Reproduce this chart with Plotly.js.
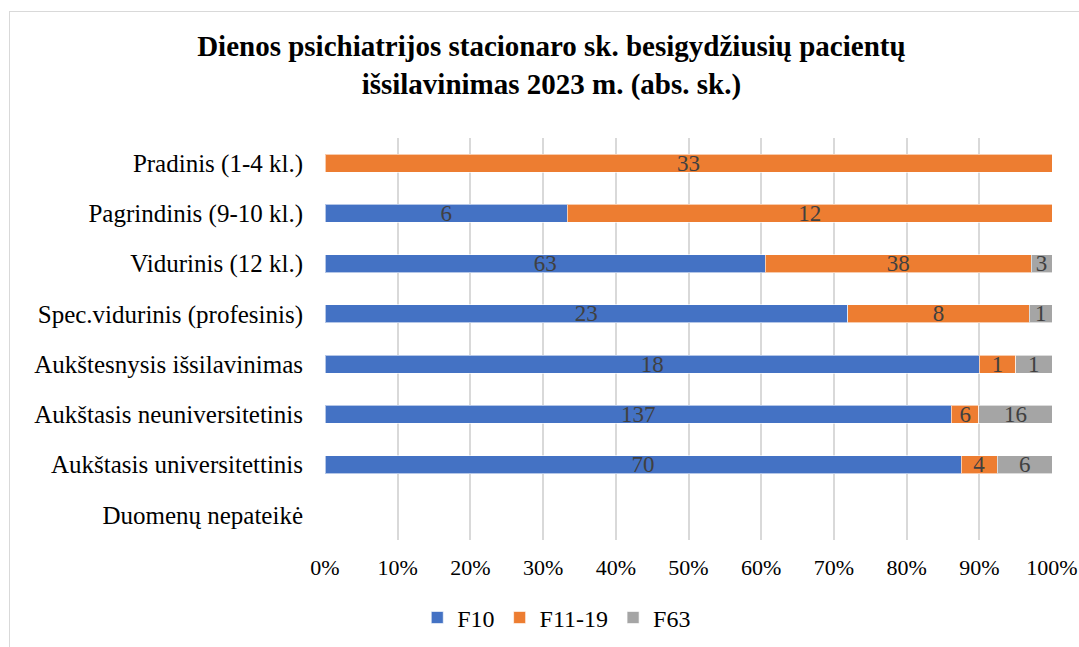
<!DOCTYPE html>
<html>
<head>
<meta charset="utf-8">
<script src="https://cdn.plot.ly/plotly-3.0.1.min.js"></script>
<style>
html,body{margin:0;padding:0;background:#fff;}
#wrap{position:relative;width:1079px;height:647px;overflow:hidden;}
#frame{position:absolute;left:9px;top:11px;width:1100px;height:700px;border:1px solid #d9d9d9;box-sizing:border-box;pointer-events:none;z-index:5;}
#chart{position:absolute;left:0;top:0;width:1079px;height:647px;}
</style>
</head>
<body>
<div id="wrap"><div id="chart"></div><div id="frame"></div></div>
<script>
const categories = [
  "Pradinis (1-4 kl.)",
  "Pagrindinis (9-10 kl.)",
  "Vidurinis (12 kl.)",
  "Spec.vidurinis (profesinis)",
  "Aukštesnysis išsilavinimas",
  "Aukštasis neuniversitetinis",
  "Aukštasis universitettinis",
  "Duomenų nepateikė"
];
const seriesNames = ["F10", "F11-19", "F63"];
const f10    = [null, 6, 63, 23, 18, 137, 70, null];
const f11_19 = [33, 12, 38, 8, 1, 6, 4, null];
const f63    = [null, null, 3, 1, 1, 16, 6, null];
const colors = ["#4472C4", "#ED7D31", "#A5A5A5"];
const tickVals = [0, 10, 20, 30, 40, 50, 60, 70, 80, 90, 100];
const tickText = ["0%", "10%", "20%", "30%", "40%", "50%", "60%", "70%", "80%", "90%", "100%"];

const serif = "'Liberation Serif', 'Times New Roman', serif";
const allSeries = [f10, f11_19, f63];
const traces = allSeries.map((vals, i) => ({
  type: "bar",
  orientation: "h",
  name: seriesNames[i],
  y: categories,
  x: vals,
  text: vals.map(v => (v == null ? "" : String(v))),
  textposition: "inside",
  insidetextanchor: "middle",
  textangle: 0,
  constraintext: "none",
  textfont: {family: serif, size: 23, color: "#404040"},
  marker: {color: colors[i], line: {color: "rgba(255,255,255,0.6)", width: 1}},
  width: 0.36,
  hoverinfo: "x+y+name"
}));

const layout = {
  width: 1079,
  height: 647,
  barmode: "stack",
  barnorm: "percent",
  paper_bgcolor: "#ffffff",
  plot_bgcolor: "#ffffff",
  margin: {l: 325, r: 27, t: 138, b: 107},
  font: {family: serif, color: "#000000"},
  uniformtext: {mode: "show", minsize: 23},
  title: {
    text: "<b>Dienos psichiatrijos stacionaro sk. besigydžiusių pacientų<br>išsilavinimas 2023 m. (abs. sk.)</b>",
    font: {family: serif, size: 29, color: "#000000"},
    x: 0.511, xref: "container", xanchor: "center",
    y: 0.913, yref: "container", yanchor: "top"
  },
  xaxis: {
    range: [0, 100],
    tickvals: tickVals,
    ticktext: tickText,
    showgrid: true,
    gridcolor: "#d9d9d9",
    gridwidth: 2,
    zeroline: false,
    showline: false,
    ticks: "",
    ticklabelstandoff: 12,
    tickfont: {family: serif, size: 22, color: "#000000"},
    fixedrange: true
  },
  yaxis: {
    type: "category",
    categoryorder: "array",
    categoryarray: categories,
    autorange: "reversed",
    showgrid: false,
    zeroline: false,
    showline: false,
    ticks: "",
    ticklabelstandoff: 21,
    tickfont: {family: serif, size: 25, color: "#000000"},
    fixedrange: true
  },
  showlegend: true,
  legend: {
    orientation: "h",
    xref: "container", x: 0.516, xanchor: "center",
    yref: "container", y: 0.045, yanchor: "middle",
    font: {family: serif, size: 24, color: "#000000"},
    itemwidth: 30,
    traceorder: "normal"
  }
};

Plotly.newPlot("chart", traces, layout, {displayModeBar: false, staticPlot: true});
</script>
</body>
</html>
